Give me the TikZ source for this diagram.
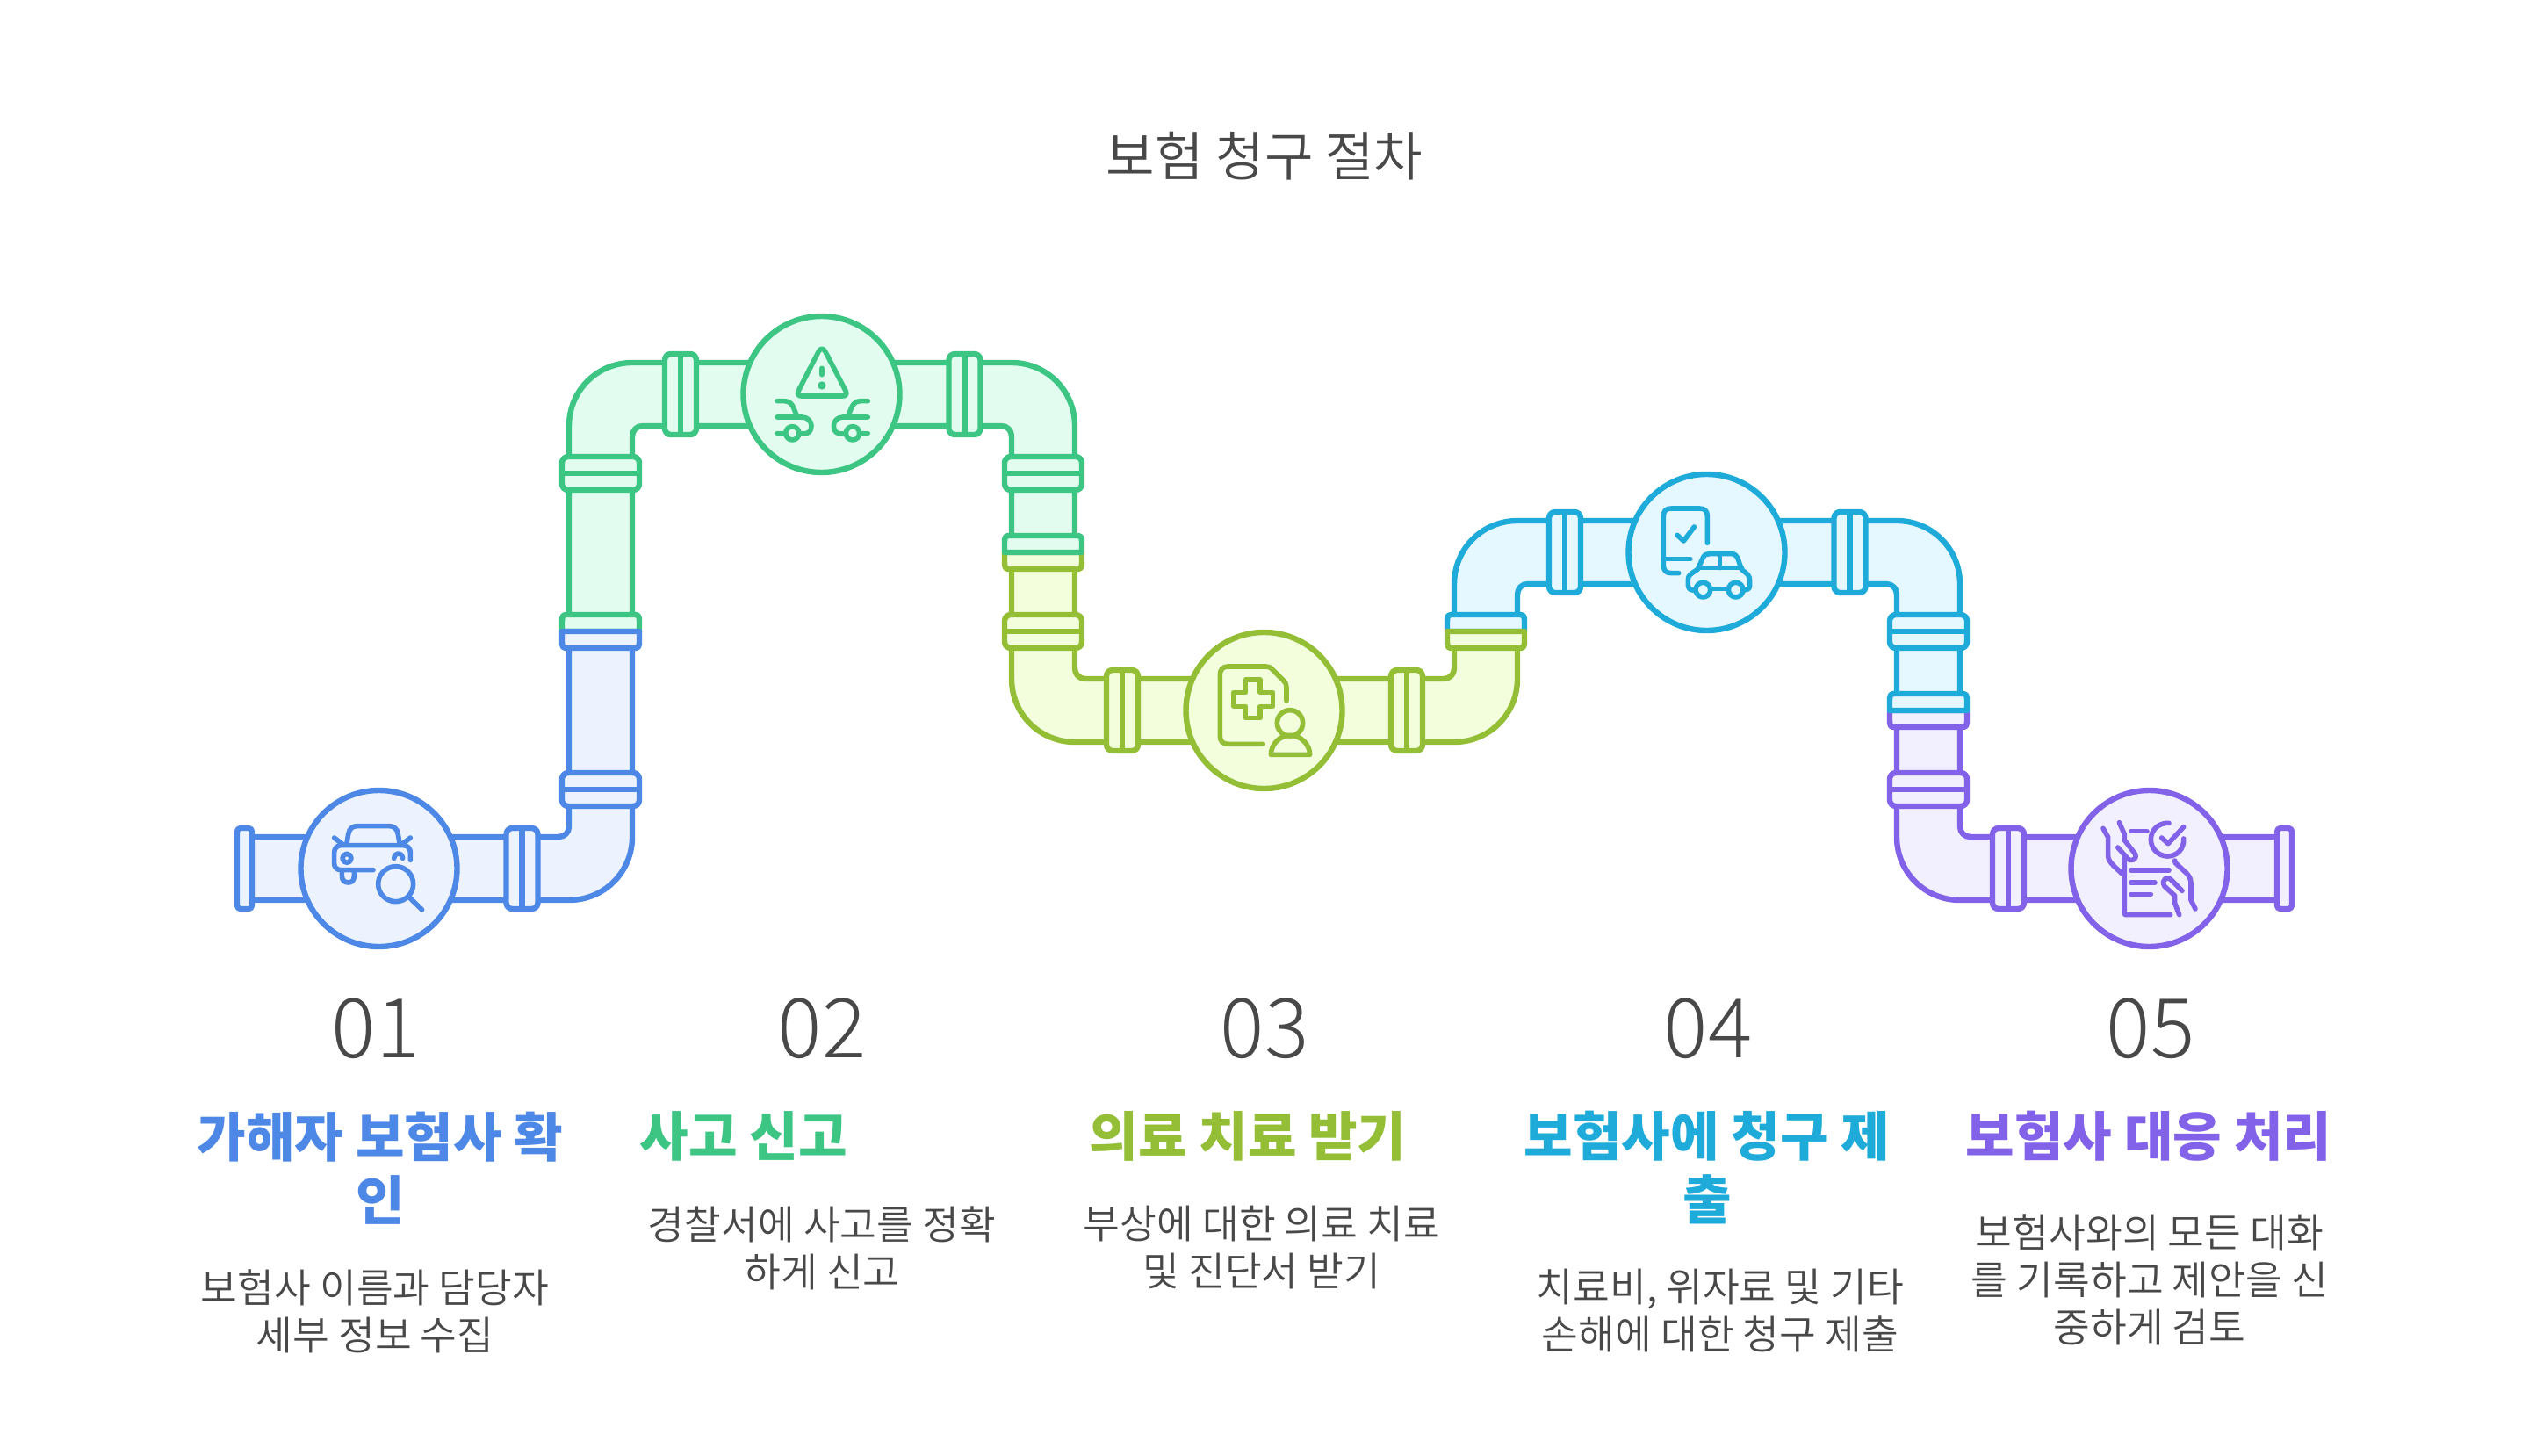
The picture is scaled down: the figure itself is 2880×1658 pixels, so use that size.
\documentclass[tikz,border=0pt]{standalone}
\usepackage{fontspec}
\setmainfont{Noto Sans CJK KR}
\newfontfamily\krfont{Noto Sans CJK KR}
\newfontfamily\krlight{Noto Sans CJK KR DemiLight}
\newfontfamily\numfont{Noto Sans CJK KR Light}
\definecolor{cblue}{HTML}{4E88E7}\definecolor{fblue}{HTML}{ECF3FE}
\definecolor{cgreen}{HTML}{3CC583}\definecolor{fgreen}{HTML}{E2FCEF}
\definecolor{colive}{HTML}{93BE35}\definecolor{folive}{HTML}{F2FEDC}
\definecolor{csky}{HTML}{1EABDA}\definecolor{fsky}{HTML}{E6F8FF}
\definecolor{cpurple}{HTML}{8162E8}\definecolor{fpurple}{HTML}{F2F0FE}
\definecolor{ink}{HTML}{484848}
\tikzset{
  blueS/.style={draw=cblue,fill=fblue,line width=3.2pt,line join=round},
  greenS/.style={draw=cgreen,fill=fgreen,line width=3.2pt,line join=round},
  oliveS/.style={draw=colive,fill=folive,line width=3.2pt,line join=round},
  skyS/.style={draw=csky,fill=fsky,line width=3.2pt,line join=round},
  purpleS/.style={draw=cpurple,fill=fpurple,line width=3.2pt,line join=round},
  ball/.style={circle,minimum size=89pt,inner sep=0pt},
  icon/.style={line width=2.8pt,line cap=round,line join=round,draw=#1,fill=none},
  numtxt/.style={text=ink,font=\numfont\fontsize{47pt}{54pt}\selectfont},
  headtxt/.style={font=\krfont\bfseries\fontsize{30.2pt}{36pt}\selectfont,align=center,inner sep=0pt},
  bodytxt/.style={text=ink,font=\krlight\fontsize{22.7pt}{27pt}\selectfont,align=center,inner sep=0pt},
}
% flange across a vertical pipe
\newcommand{\flv}[3]{%
  \draw[#1,rounded corners=3.5pt] ({#2-44},{#3-19}) rectangle ({#2+44},{#3+19});
  \draw[#1] ({#2-44},#3) -- ({#2+44},#3);}
% flange across a horizontal pipe
\newcommand{\flh}[3]{%
  \draw[#1,rounded corners=3.5pt] ({#2-18},{#3-46}) rectangle ({#2+18},{#3+46});
  \draw[#1] (#2,{#3-46}) -- (#2,{#3+46});}
% upper and lower half of a shared flange
\newcommand{\flup}[3]{%
  \draw[#1] ({#2-44},#3) -- ({#2-44},{#3-8}) .. controls ({#2-44},{#3-19}) .. ({#2-36},{#3-19})
    -- ({#2+36},{#3-19}) .. controls ({#2+44},{#3-19}) .. ({#2+44},{#3-8}) -- ({#2+44},#3) -- cycle;}
\newcommand{\fldn}[3]{%
  \draw[#1] ({#2-44},#3) -- ({#2-44},{#3+8}) .. controls ({#2-44},{#3+19}) .. ({#2-36},{#3+19})
    -- ({#2+36},{#3+19}) .. controls ({#2+44},{#3+19}) .. ({#2+44},{#3+8}) -- ({#2+44},#3) -- cycle;}
\begin{document}
\begin{tikzpicture}[x=0.5pt,y=-0.5pt]
\useasboundingbox (0,0) rectangle (2880,1658);
\fill[white] (0,0) rectangle (2880,1658);

% ---------- purple section
\draw[purpleS] (2160,815) -- (2160,953) .. controls (2160,993) and (2192,1025) .. (2232,1025) -- (2600,1025)
  -- (2600,953) -- (2244,953) .. controls (2237,953) and (2232,948) .. (2232,941) -- (2232,815) -- cycle;
\fldn{purpleS}{2196}{809}
\flv{purpleS}{2196}{899}
\flh{purpleS}{2287}{989}
\draw[purpleS,rounded corners=2pt] (2593,943) rectangle (2610,1035);
\node[ball,purpleS] (c5) at (2447.5,989) {};
\begin{scope}[shift={(2360,900)},x=0.5pt/3,y=-0.5pt/3]
  \draw[icon=cpurple] (178,225) -- (178,415) .. controls (178,425) .. (188,425) -- (335,425);
  \draw[icon=cpurple] (200,273) -- (330,273) (200,315) -- (282,315) (200,355) -- (268,355) (200,140) -- (255,140);
  \draw[icon=cpurple] (330,112) .. controls (295,110) and (268,135) .. (268,168) .. controls (268,200) and (295,225) .. (325,225) .. controls (358,225) and (382,200) .. (380,165);
  \draw[icon=cpurple] (305,162) -- (327,182) -- (380,125);
  \draw[icon=cpurple] (105,130) -- (122,160) -- (122,225) .. controls (122,245) and (150,265) .. (170,285);
  \draw[icon=cpurple] (160,110) -- (178,150) -- (178,170) -- (215,218) .. controls (222,240) and (195,245) .. (188,232) -- (155,195);
  \draw[icon=cpurple] (350,240) -- (352,248) -- (392,285) .. controls (405,300) and (405,310) .. (405,325) -- (405,375) -- (420,405);
  \draw[icon=cpurple] (365,425) -- (350,385) -- (350,360) -- (315,328) .. controls (300,305) and (325,290) .. (340,308) -- (375,343);
\end{scope}

% ---------- sky section
\draw[skyS] (1656,715) -- (1656,665) .. controls (1656,625) and (1688,593) .. (1728,593) -- (2160,593)
  .. controls (2200,593) and (2232,625) .. (2232,665) -- (2232,805) -- (2160,805) -- (2160,677)
  .. controls (2160,670) and (2155,665) .. (2148,665) -- (1740,665) .. controls (1733,665) and (1728,670) .. (1728,677) -- (1728,715) -- cycle;
\flup{skyS}{1692}{719}
\flh{skyS}{1782}{629}
\flh{skyS}{2106.5}{629}
\flv{skyS}{2196}{719}
\flup{skyS}{2196}{809}
\node[ball,skyS] (c4) at (1943.5,629) {};
\begin{scope}[shift={(1860,540)},x=0.5pt/3,y=-0.5pt/3]
  \draw[icon=csky] (253,235) -- (253,145) .. controls (253,125) and (245,117) .. (225,117) -- (130,117)
    .. controls (110,117) and (103,125) .. (103,145) -- (103,310) .. controls (103,330) and (112,338) .. (130,338) -- (155,338);
  \draw[icon=csky] (103,290) -- (195,290);
  \draw[icon=csky] (150,208) -- (172,228) -- (208,180);
  \draw[icon=csky] (213,396) -- (203,396) .. controls (193,396) and (187,388) .. (187,378) -- (187,360) .. controls (187,345) and (197,340) .. (220,325)
    -- (238,285) .. controls (243,275) and (250,272) .. (260,272) -- (335,272) .. controls (347,272) and (352,278) .. (357,288) -- (370,325)
    -- (390,342) .. controls (397,350) and (398,355) .. (398,365) -- (398,380) .. controls (398,390) and (392,396) .. (375,396);
  \draw[icon=csky] (238,395) circle[radius=25] (350,395) circle[radius=25];
  \draw[icon=csky] (263,392) -- (325,392) (222,320) -- (370,320) (296,272) -- (296,320);
\end{scope}

% ---------- olive section
\draw[oliveS] (1152,635) -- (1152,773) .. controls (1152,813) and (1184,845) .. (1224,845) -- (1656,845)
  .. controls (1696,845) and (1728,813) .. (1728,773) -- (1728,725) -- (1656,725) -- (1656,761)
  .. controls (1656,768) and (1651,773) .. (1644,773) -- (1236,773) .. controls (1229,773) and (1224,768) .. (1224,761) -- (1224,635) -- cycle;
\fldn{oliveS}{1188}{629}
\flv{oliveS}{1188}{719}
\flh{oliveS}{1278}{809}
\flh{oliveS}{1602}{809}
\fldn{oliveS}{1692}{719}
\node[ball,oliveS] (c3) at (1439.5,809) {};
\begin{scope}[shift={(1350,720)},x=0.5pt/3,y=-0.5pt/3]
  \draw[icon=colive] (265,382) -- (145,382) .. controls (128,382) and (118,372) .. (118,355) -- (118,145) .. controls (118,128) and (128,117) .. (145,117)
    -- (275,117) .. controls (285,117) and (290,120) .. (295,125) -- (335,165) .. controls (342,172) and (345,178) .. (345,188) -- (345,235);
  \draw[icon=colive] (205,162) -- (255,162) -- (255,205) -- (298,205) -- (298,253) -- (255,253) -- (255,293) -- (205,293) -- (205,253) -- (165,253) -- (165,205) -- (205,205) -- cycle;
  \draw[icon=colive] (357,310) circle[radius=44];
  \draw[icon=colive] (292,418) .. controls (292,385) and (320,352) .. (357,352) .. controls (395,352) and (425,385) .. (425,418) -- cycle;
\end{scope}

% ---------- green section
\draw[greenS] (648,710) -- (648,485) .. controls (648,445) and (680,413) .. (720,413) -- (1152,413)
  .. controls (1192,413) and (1224,445) .. (1224,485) -- (1224,625) -- (1152,625) -- (1152,497)
  .. controls (1152,490) and (1147,485) .. (1140,485) -- (732,485) .. controls (725,485) and (720,490) .. (720,497) -- (720,710) -- cycle;
\flv{greenS}{684}{539}
\flup{greenS}{684}{719}
\flh{greenS}{775}{449}
\flh{greenS}{1098.5}{449}
\flv{greenS}{1188}{539}
\flup{greenS}{1188}{629}
\node[ball,greenS] (c2) at (935.5,449) {};
\begin{scope}[shift={(840,350)},x=0.5pt/3,y=-0.5pt/3]
  \draw[icon=cgreen] (288,142) .. controls (283,142) and (279,146) .. (276,152) -- (208,285) .. controls (202,296) and (207,303) .. (217,303) -- (360,303) .. controls (370,303) and (375,296) .. (369,285) -- (300,152) .. controls (297,146) and (293,142) .. (288,142) -- cycle;
  \draw[icon=cgreen] (288,208) -- (288,230);
  \fill[cgreen] (288,267) circle[radius=14];
  \draw[icon=cgreen] (135,320) -- (160,320) .. controls (180,320) and (188,335) .. (192,345) -- (204,375);
  \draw[icon=cgreen] (135,375) -- (220,375) .. controls (240,375) and (252,390) .. (252,405) .. controls (252,425) and (240,432) .. (225,432) -- (210,432);
  \draw[icon=cgreen] (135,430) -- (164,430);
  \draw[icon=cgreen] (187,430) circle[radius=23];
  \draw[icon=cgreen] (445,320) -- (420,320) .. controls (400,320) and (392,335) .. (388,345) -- (376,375);
  \draw[icon=cgreen] (445,375) -- (360,375) .. controls (340,375) and (328,390) .. (328,405) .. controls (328,425) and (340,432) .. (355,432) -- (370,432);
  \draw[icon=cgreen] (445,430) -- (416,430);
  \draw[icon=cgreen] (393,430) circle[radius=23];
\end{scope}

% ---------- blue section
\draw[blueS] (280,953) -- (636,953) .. controls (643,953) and (648,948) .. (648,941) -- (648,725) -- (720,725)
  -- (720,953) .. controls (720,993) and (688,1025) .. (648,1025) -- (280,1025) -- cycle;
\draw[blueS,rounded corners=2pt] (270,943) rectangle (287,1035);
\flh{blueS}{594.5}{989}
\flv{blueS}{684}{899}
\fldn{blueS}{684}{719}
\node[ball,blueS] (c1) at (431.5,989) {};
\begin{scope}[shift={(320,880)},x=0.5pt/3,y=-0.5pt/3]
  \draw[icon=cblue] (225,240) -- (230,210) .. controls (233,190) and (245,182) .. (260,182) -- (370,182) .. controls (385,182) and (397,190) .. (400,210) -- (405,240);
  \draw[icon=cblue] (182,222) -- (212,245) (442,222) -- (412,245);
  \draw[icon=cblue] (315,332) -- (205,332) .. controls (190,332) and (182,322) .. (182,310) -- (182,272) .. controls (182,258) and (192,248) .. (205,248)
    -- (418,248) .. controls (432,248) and (442,258) .. (442,272) -- (442,298);
  \draw[icon=cblue] (225,292) circle[radius=15];
  \draw[icon=cblue] (386,292) .. controls (390,270) and (412,270) .. (416,292);
  \draw[icon=cblue] (208,335) -- (208,352) .. controls (208,368) and (218,375) .. (230,375) .. controls (242,375) and (250,368) .. (250,352) -- (250,335);
  \draw[icon=cblue] (392,380) circle[radius=60];
  \draw[icon=cblue] (438,425) -- (482,468);
\end{scope}

% ---------- texts
\node[text=ink,inner sep=0pt,font=\krlight\fontsize{30.2pt}{36pt}\selectfont] (title) at (1440,178) {보험 청구 절차};

\node[numtxt] (n1) at (428,1171) {01};
\node[numtxt] (n2) at (936,1171) {02};
\node[numtxt] (n3) at (1440,1171) {03};
\node[numtxt] (n4) at (1945,1171) {04};
\node[numtxt] (n5) at (2449,1171) {05};

\node[headtxt,text=cblue] (h1) at (433,1330) {가해자 보험사 확\\인};
\node[headtxt,text=cgreen] (h2) at (847,1294) {사고 신고};
\node[headtxt,text=colive] (h3) at (1421,1294) {의료 치료 받기};
\node[headtxt,text=csky] (h4) at (1944,1330) {보험사에 청구 제\\출};
\node[headtxt,text=cpurple] (h5) at (2447,1294) {보험사 대응 처리};

\node[bodytxt] (b1) at (427,1493) {보험사 이름과 담당자\\세부 정보 수집};
\node[bodytxt] (b2) at (936,1421) {경찰서에 사고를 정확\\하게 신고};
\node[bodytxt] (b3) at (1437,1421) {부상에 대한 의료 치료\\및 진단서 받기};
\node[bodytxt] (b4) at (1959,1493) {치료비, 위자료 및 기타\\손해에 대한 청구 제출};
\node[bodytxt] (b5) at (2448,1457) {보험사와의 모든 대화\\를 기록하고 제안을 신\\중하게 검토};
\end{tikzpicture}
\end{document}
